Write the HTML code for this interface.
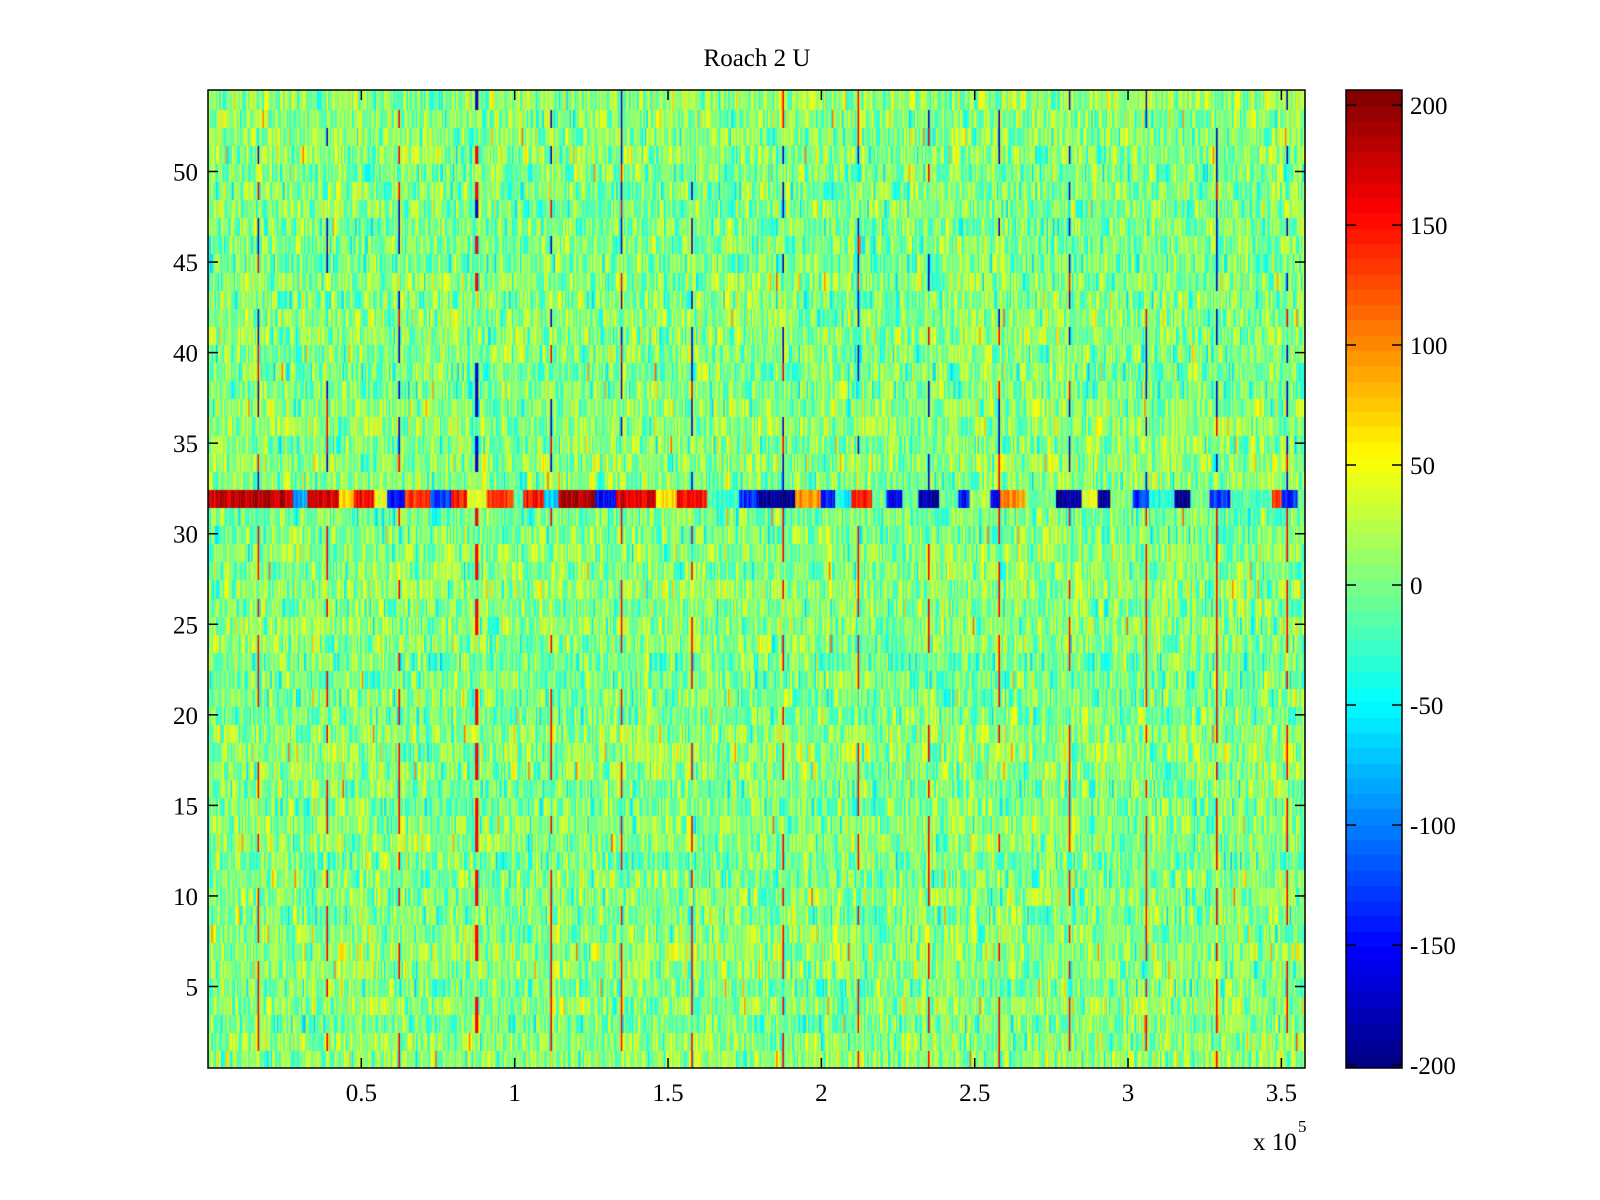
<!DOCTYPE html>
<html><head><meta charset="utf-8"><style>
body{margin:0;background:#fff;}
#wrap{position:relative;width:1600px;height:1200px;font-family:"Liberation Serif",serif;}
canvas{position:absolute;}
svg{position:absolute;left:0;top:0;}
text{font-family:"Liberation Serif",serif;font-size:25px;fill:#000;}
</style></head><body>
<div id="wrap">
<canvas id="hm" width="1097" height="978" style="left:208px;top:90px"></canvas>
<canvas id="cb" width="56" height="978" style="left:1346px;top:90px"></canvas>
<svg id="ax" width="1600" height="1200"></svg>
</div>
<script>
// ---- data ----
const xTicks=[0.5,1,1.5,2,2.5,3,3.5];
const xTickLabels=["0.5","1","1.5","2","2.5","3","3.5"];
const yTicks=[5,10,15,20,25,30,35,40,45,50];
const cbTicks=[200,150,100,50,0,-50,-100,-150,-200];
const stripeX=[0.166,0.388,0.623,0.877,1.118,1.35,1.58,1.875,2.12,2.35,2.58,2.81,3.06,3.29,3.52];
const stripeUpperValue=-170;
const stripeLowerValue=160;
const bandRow=32;
const bandStart=[0,0.275,0.325,0.426,0.476,0.543,0.586,0.643,0.727,0.793,0.843,0.91,0.994,1.027,1.094,1.144,1.261,1.328,1.462,1.529,1.63,1.73,1.797,1.914,1.997,2.047,2.098,2.164,2.214,2.265,2.315,2.382,2.449,2.482,2.549,2.583,2.666,2.766,2.85,2.9,2.94,3.017,3.067,3.151,3.201,3.268,3.335,3.469,3.502,3.552];
const bandValue=[180,-80,170,60,160,40,-150,140,-130,150,40,130,-20,150,-60,190,-150,170,70,150,-30,-130,-195,100,-140,-50,140,0,-160,0,-190,-10,-140,20,-150,100,0,-190,50,-195,0,-130,-40,-190,0,-130,-20,130,-140,0];
// ---- scales ----
const L=208,R=1305,T=90,B=1068,X0=0,X1=3.577,Y0=0.5,Y1=54.5;
const CBL=1346,CBR=1402,C0=-201.25,C1=206.25;
const sx=v=>L+(v-X0)/(X1-X0)*(R-L);
const sy=v=>B-(v-Y0)/(Y1-Y0)*(B-T);
const sc=v=>B-(v-C0)/(C1-C0)*(B-T);
function jet(t){t=Math.max(0,Math.min(1,t));
 const f=x=>Math.max(0,Math.min(1,x));
 return [f(1.5-Math.abs(4*t-3)),f(1.5-Math.abs(4*t-2)),f(1.5-Math.abs(4*t-1))].map(c=>Math.round(c*255));}
function colorOf(v){const t=(v-C0)/(C1-C0);const q=Math.max(0,Math.min(63,Math.floor(t*64)));return jet((q+0.5)/64);}
function h(a,b){let n=(a*374761393+b*668265263)|0;n=(n^(n>>>13))*1274126177|0;n=n^(n>>>16);return ((n>>>0)%10000)/10000;}
// heatmap
const hm=document.getElementById('hm').getContext('2d');
const cw=1.6,nc=Math.ceil((R-L)/cw);
for(let r=1;r<=54;r++){
 const y0=sy(r+0.5)-T,y1=sy(r-0.5)-T;
 const rowOff=(h(r,77)-0.5)*14;
 for(let c=0;c<nc;c++){
  const xd=X0+(c+0.5)*cw/(R-L)*(X1-X0);
  let v;
  if(r===bandRow){let k=0;for(let i=0;i<bandStart.length;i++)if(xd>=bandStart[i])k=i;v=bandValue[k]+(h(c,r)-0.5)*50;}
  else{const u=h(c,r),w=h(c+7,r*3);v=(u+w-1)*70+2+rowOff;if(h(c*3,r+11)>0.985)v+=50;}
  stripeX.forEach((s,si)=>{if(r!==bandRow&&Math.abs(sx(s)-L-(c+0.5)*cw)<1.0){
    if(h(r,si+31)>0.45) v=(r>bandRow)?(h(r,si)>0.3?stripeUpperValue:stripeLowerValue):stripeLowerValue;}});
  const col=colorOf(v);hm.fillStyle=`rgb(${col})`;
  hm.fillRect(c*cw,Math.floor(y0),cw+0.4,Math.ceil(y1-y0)+1);
 }}
// colorbar
const cb=document.getElementById('cb').getContext('2d');
for(let q=0;q<64;q++){const c=jet((q+0.5)/64);cb.fillStyle=`rgb(${c})`;
 const ya=(B-T)*(1-(q+1)/64),yb=(B-T)*(1-q/64);cb.fillRect(0,Math.floor(ya),56,Math.ceil(yb-ya)+1);}
// axes
const svg=document.getElementById('ax');const NS='http://www.w3.org/2000/svg';
function add(tag,at,txt){const e=document.createElementNS(NS,tag);for(const k in at)e.setAttribute(k,at[k]);if(txt!==undefined)e.textContent=txt;svg.appendChild(e);return e;}
let e=add('rect',{x:L,y:T,width:R-L,height:B-T,fill:'none',stroke:'#000','stroke-width':1.5});

e=add('rect',{x:CBL,y:T,width:CBR-CBL,height:B-T,fill:'none',stroke:'#000','stroke-width':1.5});

xTicks.forEach((t,i)=>{const x=sx(t);
 add('line',{x1:x,y1:B,x2:x,y2:B-10,stroke:'#000','stroke-width':1.5});
 add('line',{x1:x,y1:T,x2:x,y2:T+10,stroke:'#000','stroke-width':1.5});
 const l=add('text',{x:x,y:B+33,'text-anchor':'middle'},xTickLabels[i]);
 });
yTicks.forEach(t=>{const y=sy(t);
 add('line',{x1:L,y1:y,x2:L+10,y2:y,stroke:'#000','stroke-width':1.5});
 add('line',{x1:R,y1:y,x2:R-10,y2:y,stroke:'#000','stroke-width':1.5});
 const l=add('text',{x:L-10,y:y+9,'text-anchor':'end'},String(t));
 });
cbTicks.forEach(t=>{const y=sc(t);
 add('line',{x1:CBL,y1:y,x2:CBL+10,y2:y,stroke:'#000','stroke-width':1.5});
 add('line',{x1:CBR,y1:y,x2:CBR-10,y2:y,stroke:'#000','stroke-width':1.5});
 const l=add('text',{x:CBR+8,y:y+9},String(t));
 });
e=add('text',{x:757,y:66,'text-anchor':'middle'},'Roach 2 U');

e=add('text',{x:1253,y:1150},'x 10');

e=add('text',{x:1298,y:1132,style:'font-size:17px'},'5');

</script></body></html>
